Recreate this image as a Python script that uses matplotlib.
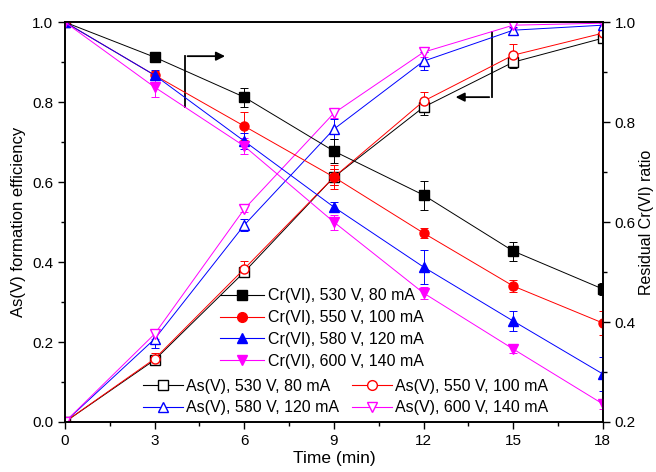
import numpy as np
import matplotlib
matplotlib.use("Agg")
import matplotlib.pyplot as plt
from matplotlib.ticker import MultipleLocator
from matplotlib.lines import Line2D

plt.rcParams['font.family'] = ['Liberation Sans', 'DejaVu Sans']
plt.rcParams['font.size'] = 11

time = [0, 3, 6, 9, 12, 15, 18]

# residual Cr(VI) ratio (right axis)
cr_530 = [1.0, 0.930, 0.850, 0.742, 0.654, 0.542, 0.466]
cr_550 = [1.0, 0.894, 0.792, 0.690, 0.578, 0.472, 0.398]
cr_580 = [1.0, 0.894, 0.762, 0.630, 0.510, 0.402, 0.296]
cr_600 = [1.0, 0.870, 0.752, 0.600, 0.458, 0.346, 0.236]
cr_530_err = [0, 0.006, 0.019, 0.024, 0.029, 0.019, 0.012]
cr_550_err = [0, 0.008, 0.028, 0.016, 0.010, 0.012, 0.024]
cr_580_err = [0, 0.010, 0.016, 0.010, 0.034, 0.020, 0.034]
cr_600_err = [0, 0.020, 0.016, 0.015, 0.012, 0.008, 0.010]

# As(V) formation efficiency (left axis)
as_530 = [0.0, 0.155, 0.375, 0.6125, 0.7875, 0.900, 0.960]
as_550 = [0.0, 0.158, 0.383, 0.6125, 0.8025, 0.9175, 0.9725]
as_580 = [0.0, 0.2075, 0.4925, 0.7325, 0.9025, 0.980, 0.9925]
as_600 = [0.0, 0.220, 0.5325, 0.7725, 0.925, 0.9925, 0.9975]
as_530_err = [0, 0.010, 0.010, 0.020, 0.020, 0.015, 0.010]
as_550_err = [0, 0.015, 0.020, 0.030, 0.022, 0.028, 0.012]
as_580_err = [0, 0.022, 0.015, 0.025, 0.022, 0.008, 0.005]
as_600_err = [0, 0.012, 0.008, 0.012, 0.012, 0.008, 0.005]

colors = ['black', 'red', 'blue', 'magenta']
labels_cr = ['Cr(VI), 530 V, 80 mA', 'Cr(VI), 550 V, 100 mA',
             'Cr(VI), 580 V, 120 mA', 'Cr(VI), 600 V, 140 mA']
labels_as = ['As(V), 530 V, 80 mA', 'As(V), 550 V, 100 mA',
             'As(V), 580 V, 120 mA', 'As(V), 600 V, 140 mA']
markers = ['s', 'o', '^', 'v']

fig = plt.figure(figsize=(6.56, 4.72), dpi=100)
ax = fig.add_axes([0.099, 0.106, 0.820, 0.847])
ax2 = ax.twinx()

cr_data = [(cr_530, cr_530_err), (cr_550, cr_550_err), (cr_580, cr_580_err), (cr_600, cr_600_err)]
as_data = [(as_530, as_530_err), (as_550, as_550_err), (as_580, as_580_err), (as_600, as_600_err)]

h_cr = []
h_as = []
for (y, e), c, m, lab in zip(as_data, colors, markers, labels_as):
    ax.errorbar(time, y, yerr=e, color=c, marker=m, ms=6.5, mfc='white', mec=c,
                lw=0.7, elinewidth=0.7, capsize=3, capthick=0.7)
    h_as.append(Line2D([], [], color=c, marker=m, ms=7, mfc='white', mec=c, lw=0.8, label=lab))
for (y, e), c, m, lab in zip(cr_data, colors, markers, labels_cr):
    ax2.errorbar(time, y, yerr=e, color=c, marker=m, ms=6.5, mfc=c, mec=c,
                 lw=0.7, elinewidth=0.7, capsize=3, capthick=0.7)
    h_cr.append(Line2D([], [], color=c, marker=m, ms=7, mfc=c, mec=c, lw=0.8, label=lab))

ax.set_xlim(0, 18)
ax.set_ylim(0, 1.0)
ax2.set_ylim(0.2, 1.0)
ax.xaxis.set_major_locator(MultipleLocator(3))
ax.xaxis.set_minor_locator(MultipleLocator(1.5))
ax.yaxis.set_major_locator(MultipleLocator(0.2))
ax.yaxis.set_minor_locator(MultipleLocator(0.1))
ax2.yaxis.set_major_locator(MultipleLocator(0.2))
ax2.yaxis.set_minor_locator(MultipleLocator(0.1))
ax.set_yticks(np.arange(0, 1.01, 0.2))
ax.set_yticklabels(['0.0', '0.2', '0.4', '0.6', '0.8', '1.0'])
ax2.set_yticks([0.2, 0.4, 0.6, 0.8, 1.0])
ax2.set_yticklabels(['0.2', '0.4', '0.6', '0.8', '1.0'])

for a in (ax, ax2):
    a.tick_params(which='major', direction='out', length=5, width=1, labelsize=11)
    a.tick_params(which='minor', direction='out', length=3, width=1)
    for s in a.spines.values():
        s.set_linewidth(1.2)

ax.set_xlabel('Time (min)', labelpad=2, fontsize=12.5)
ax.set_ylabel('As(V) formation efficiency', labelpad=4, fontsize=12)
ax2.set_ylabel('Residual Cr(VI) ratio', labelpad=2, fontsize=11.5)

# arrows pointing to the matching axis
ax.annotate('', xy=(5.45, 0.915), xytext=(4.01, 0.915),
            arrowprops=dict(arrowstyle='-|>', color='black', lw=1.3, mutation_scale=13))
ax.plot([4.01, 4.01], [0.7875, 0.915], color='black', lw=1.3)
ax.annotate('', xy=(12.98, 0.8125), xytext=(14.29, 0.8125),
            arrowprops=dict(arrowstyle='-|>', color='black', lw=1.3, mutation_scale=13))
ax.plot([14.29, 14.29], [0.8125, 0.975], color='black', lw=1.3)

leg1 = ax2.legend(handles=h_cr, loc='upper left', bbox_to_anchor=(0.335, 0.389),
                  bbox_transform=fig.transFigure, frameon=False, borderpad=0, fontsize=11.5,
                  borderaxespad=0, handlelength=2.8, handletextpad=0.2, labelspacing=0.42)
ax2.add_artist(leg1)
order = [h_as[0], h_as[2], h_as[1], h_as[3]]
leg2 = ax2.legend(handles=order, loc='upper left', bbox_to_anchor=(0.218, 0.198),
                  bbox_transform=fig.transFigure, frameon=False, borderpad=0, ncol=2,
                  fontsize=11.5, borderaxespad=0, handlelength=2.5, handletextpad=0.2,
                  labelspacing=0.42, columnspacing=0.8)

fig.savefig('out.png', dpi=100)
